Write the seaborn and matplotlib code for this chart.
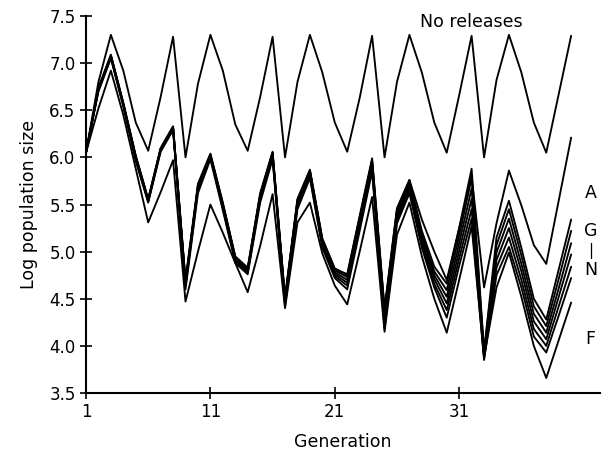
import matplotlib
matplotlib.use("Agg")
import matplotlib.pyplot as plt
import seaborn as sns
import pandas as pd

generations = list(range(1, 41))

no_releases = [6.05, 6.80, 7.30, 6.92, 6.37, 6.07, 6.64, 7.28, 6.00, 6.78,
               7.30, 6.92, 6.35, 6.07, 6.64, 7.28, 6.00, 6.80, 7.30, 6.90,
               6.37, 6.06, 6.63, 7.29, 6.00, 6.80, 7.30, 6.90, 6.37, 6.05,
               6.66, 7.29, 6.00, 6.82, 7.30, 6.90, 6.37, 6.05, 6.67, 7.29]

line_A = [6.05, 6.73, 7.08, 6.57, 6.01, 5.55, 6.09, 6.32, 4.68, 5.70,
          6.03, 5.51, 4.94, 4.82, 5.60, 6.05, 4.50, 5.55, 5.86, 5.13,
          4.82, 4.75, 5.36, 5.97, 4.38, 5.45, 5.76, 5.34, 5.00, 4.70,
          5.25, 5.80, 4.62, 5.30, 5.86, 5.49, 5.07, 4.87, 5.54, 6.21]

line_G = [6.05, 6.74, 7.09, 6.58, 6.02, 5.56, 6.10, 6.33, 4.70, 5.72,
          6.04, 5.52, 4.95, 4.83, 5.62, 6.06, 4.52, 5.56, 5.87, 5.14,
          4.82, 4.76, 5.38, 5.99, 4.40, 5.46, 5.76, 5.22, 4.84, 4.66,
          5.25, 5.88, 3.95, 5.15, 5.54, 5.04, 4.50, 4.28, 4.81, 5.34]

line_H = [6.05, 6.73, 7.08, 6.57, 6.01, 5.55, 6.09, 6.32, 4.68, 5.70,
          6.03, 5.50, 4.94, 4.82, 5.60, 6.05, 4.50, 5.54, 5.86, 5.12,
          4.80, 4.73, 5.35, 5.96, 4.36, 5.43, 5.74, 5.18, 4.79, 4.59,
          5.17, 5.78, 3.93, 5.07, 5.45, 4.96, 4.42, 4.21, 4.71, 5.22]

line_I = [6.05, 6.72, 7.07, 6.56, 6.00, 5.54, 6.08, 6.31, 4.66, 5.68,
          6.02, 5.49, 4.93, 4.80, 5.58, 6.03, 4.48, 5.52, 5.84, 5.10,
          4.78, 4.70, 5.32, 5.93, 4.32, 5.40, 5.71, 5.15, 4.75, 4.52,
          5.09, 5.67, 3.91, 4.99, 5.35, 4.87, 4.34, 4.14, 4.61, 5.09]

line_J = [6.05, 6.72, 7.07, 6.56, 5.99, 5.54, 6.08, 6.31, 4.65, 5.67,
          6.01, 5.48, 4.92, 4.79, 5.57, 6.02, 4.47, 5.50, 5.82, 5.08,
          4.76, 4.67, 5.29, 5.91, 4.28, 5.37, 5.68, 5.11, 4.71, 4.45,
          5.01, 5.56, 3.89, 4.91, 5.25, 4.79, 4.26, 4.07, 4.52, 4.97]

line_K = [6.05, 6.71, 7.06, 6.55, 5.98, 5.53, 6.07, 6.30, 4.63, 5.65,
          6.00, 5.46, 4.90, 4.78, 5.55, 6.00, 4.45, 5.48, 5.80, 5.06,
          4.74, 4.64, 5.26, 5.88, 4.23, 5.34, 5.65, 5.08, 4.66, 4.38,
          4.93, 5.45, 3.87, 4.83, 5.15, 4.70, 4.18, 4.00, 4.42, 4.84]

line_N = [6.05, 6.70, 7.05, 6.54, 5.96, 5.52, 6.06, 6.29, 4.60, 5.62,
          5.98, 5.44, 4.88, 4.76, 5.52, 5.98, 4.42, 5.45, 5.78, 5.04,
          4.72, 4.60, 5.22, 5.85, 4.18, 5.30, 5.62, 5.04, 4.62, 4.30,
          4.85, 5.35, 3.85, 4.75, 5.05, 4.62, 4.10, 3.93, 4.32, 4.72]

line_F = [6.05, 6.52, 6.92, 6.45, 5.88, 5.31, 5.63, 5.97, 4.47, 5.00,
          5.50, 5.20, 4.88, 4.57, 5.06, 5.61, 4.40, 5.31, 5.52, 4.98,
          4.64, 4.44, 5.00, 5.58, 4.15, 5.18, 5.52, 4.95, 4.50, 4.14,
          4.70, 5.27, 3.88, 4.62, 4.99, 4.52, 4.00, 3.66, 4.06, 4.46]

series = {
    "No releases": no_releases, "A": line_A, "G": line_G, "H": line_H,
    "I": line_I, "J": line_J, "K": line_K, "N": line_N, "F": line_F,
}

rows = []
for name, vals in series.items():
    for g, v in zip(generations, vals):
        rows.append({"Generation": g, "value": v, "line": name})
df = pd.DataFrame(rows)

sns.set_style("ticks")
plt.rcParams["font.family"] = ["DejaVu Sans"]
plt.rcParams["text.color"] = "black"
plt.rcParams["axes.labelcolor"] = "black"

fig = plt.figure(figsize=(6.03, 4.57), dpi=100)
ax = fig.add_axes([0.1426, 0.140, 0.852, 0.825])

sns.lineplot(data=df, x="Generation", y="value", units="line",
             estimator=None, color="black", linewidth=1.35, ax=ax)

ax.set_xlim(1, 42.3)
ax.set_ylim(3.5, 7.5)
ax.set_xticks([1, 11, 21, 31])
ax.set_yticks([3.5, 4.0, 4.5, 5.0, 5.5, 6.0, 6.5, 7.0, 7.5])
ax.set_yticklabels(["3.5", "4.0", "4.5", "5.0", "5.5", "6.0", "6.5", "7.0", "7.5"])
ax.tick_params(axis="both", direction="inout", length=9, width=1.2,
               labelsize=12, colors="black", pad=3)
for s in ["top", "right"]:
    ax.spines[s].set_visible(False)
for s in ["left", "bottom"]:
    ax.spines[s].set_linewidth(1.5)
    ax.spines[s].set_color("black")

ax.set_xlabel("Generation", fontsize=12.5, labelpad=8, color="black")
ax.set_ylabel("Log population size", fontsize=12.5, labelpad=8, color="black")

ax.text(32.0, 7.44, "No releases", fontsize=12.5, ha="center", va="center")
ax.text(41.56, 5.62, "A", fontsize=12.5, ha="center", va="center")
ax.text(41.56, 5.22, "G", fontsize=12.5, ha="center", va="center")
ax.text(41.56, 5.01, "|", fontsize=11, ha="center", va="center")
ax.text(41.56, 4.80, "N", fontsize=12.5, ha="center", va="center")
ax.text(41.56, 4.07, "F", fontsize=12.5, ha="center", va="center")

fig.savefig("out.png", dpi=100)
